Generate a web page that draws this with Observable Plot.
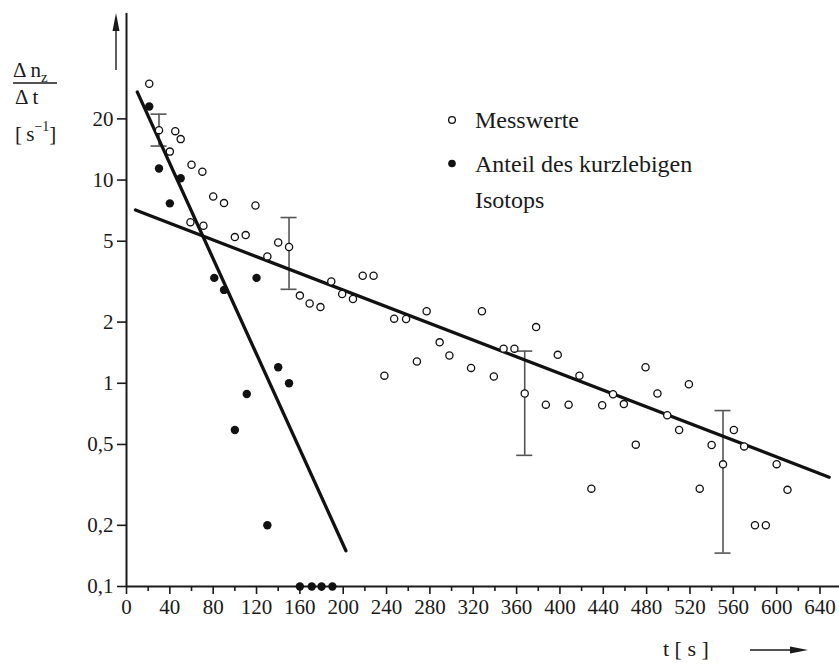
<!DOCTYPE html>
<html><head><meta charset="utf-8">
<script src="https://cdn.jsdelivr.net/npm/d3@7"></script>
<script src="https://cdn.jsdelivr.net/npm/@observablehq/plot@0.6"></script>
<style>body{margin:0;background:#fff} svg{display:block}</style>
</head><body><div id="chart"></div>
<script>
// Messwerte (open circles): time t [s], rate [1/s]
const messT = [21, 30, 40, 45, 50, 60, 59, 70, 71, 80, 90, 100, 110, 119, 130, 140, 150, 160, 169, 179, 189, 199, 209, 218, 228, 238, 247, 258, 268, 277, 289, 298, 318, 328, 339, 348, 358, 367.5, 378, 387, 398, 408, 418, 429, 439, 449, 459, 470, 479, 490, 499, 510, 519, 529, 540, 550.5, 560.5, 570, 580, 590, 600, 610];
const messV = [29.8, 17.6, 13.8, 17.4, 15.9, 11.9, 6.2, 11.0, 5.96, 8.3, 7.7, 5.24, 5.36, 7.5, 4.21, 4.93, 4.68, 2.70, 2.47, 2.37, 3.17, 2.75, 2.60, 3.38, 3.38, 1.09, 2.08, 2.07, 1.28, 2.26, 1.59, 1.37, 1.19, 2.26, 1.08, 1.48, 1.48, 0.89, 1.89, 0.785, 1.38, 0.785, 1.09, 0.303, 0.78, 0.883, 0.79, 0.499, 1.20, 0.89, 0.696, 0.589, 0.989, 0.303, 0.497, 0.399, 0.589, 0.489, 0.2, 0.2, 0.40, 0.299];
// Anteil des kurzlebigen Isotops (filled circles)
const kurzT = [21, 30, 40, 50, 81, 90, 100, 111, 120, 130, 140, 150, 160, 171, 180, 190];
const kurzV = [23.0, 11.4, 7.68, 10.2, 3.30, 2.88, 0.589, 0.886, 3.30, 0.200, 1.20, 1.0, 0.1, 0.1, 0.1, 0.1];
// Error bars
const errT = [30, 150, 367.5, 550.5];
const errLo = [14.7, 2.90, 0.442, 0.146];
const errHi = [21.1, 6.54, 1.44, 0.734];
// Fitted lines
const fitShortT = [10, 202.5];
const fitShortV = [27.1, 0.150];
const fitLongT = [8.3, 648.5];
const fitLongV = [7.12, 0.345];
// Axis ticks
const xTicks = d3.range(0, 641, 40);
const xMinorTicks = d3.range(20, 660, 40);
const yTicks = [0.1, 0.2, 0.5, 1, 2, 5, 10, 20];
const yTickLabels = ["0,1", "0,2", "0,5", "1", "2", "5", "10", "20"];

const mess = messT.map((t, i) => ({t, v: messV[i]}));
const kurz = kurzT.map((t, i) => ({t, v: kurzV[i]}));
const errs = errT.map((t, i) => ({t, lo: errLo[i], hi: errHi[i]}));
const fitShort = fitShortT.map((t, i) => ({t, v: fitShortV[i]}));
const fitLong = fitLongT.map((t, i) => ({t, v: fitLongV[i]}));
const yLab = yTicks.map((v, i) => ({v, label: yTickLabels[i]}));
const capHalf = 7.4;

const serif = "'Liberation Serif', 'Times New Roman', serif";
const chart = Plot.plot({
  width: 839, height: 664,
  marginLeft: 126, marginRight: 0, marginTop: 13, marginBottom: 78,
  style: {fontFamily: serif, fontSize: "21px", background: "#fff", color: "#1a1a1a", overflow: "visible"},
  x: {domain: [0, 658]},
  y: {type: "log", domain: [0.1, 66]},
  marks: [
    Plot.axisX({ticks: xMinorTicks, tickSize: 5, tickFormat: () => "", strokeWidth: 1.6, label: null}),
    Plot.axisX({ticks: xTicks, tickSize: 8, tickPadding: 5, fontSize: 21, strokeWidth: 1.6, label: null}),
    Plot.axisY({ticks: yTicks, tickSize: 9, tickFormat: () => "", strokeWidth: 1.6, label: null}),
    Plot.text(yLab, {y: "v", text: "label", frameAnchor: "left", textAnchor: "end", dx: -13, fontSize: 21, fill: "#1a1a1a"}),
    Plot.ruleY([0.1], {stroke: "#1a1a1a", strokeWidth: 2}),
    Plot.ruleX([0], {stroke: "#1a1a1a", strokeWidth: 2}),
    Plot.ruleX(errs, {x: "t", y1: "lo", y2: "hi", stroke: "#555", strokeWidth: 1.6}),
    Plot.ruleY(errs, {y: "lo", x1: d => d.t - capHalf, x2: d => d.t + capHalf, stroke: "#555", strokeWidth: 1.6}),
    Plot.ruleY(errs, {y: "hi", x1: d => d.t - capHalf, x2: d => d.t + capHalf, stroke: "#555", strokeWidth: 1.6}),
    Plot.line(fitShort, {x: "t", y: "v", stroke: "#111", strokeWidth: 3.3}),
    Plot.line(fitLong, {x: "t", y: "v", stroke: "#111", strokeWidth: 3.3}),
    Plot.dot(mess, {x: "t", y: "v", r: 3.6, fill: "#fff", stroke: "#111", strokeWidth: 1.3}),
    Plot.dot(kurz, {x: "t", y: "v", r: 4.2, fill: "#111", stroke: "none"})
  ]
});
document.getElementById("chart").appendChild(chart);

// Annotations: axis labels, arrows, legend
const svg = d3.select(chart);
const g = svg.append("g").attr("font-family", serif).attr("fill", "#1a1a1a").attr("text-anchor", "start");
// y label
const t1 = g.append("text").attr("x", 13).attr("y", 77).attr("font-size", 21);
t1.append("tspan").text("Δ n");
t1.append("tspan").attr("dy", 5).attr("font-size", 15).text("z");
g.append("line").attr("x1", 13).attr("x2", 57).attr("y1", 83).attr("y2", 83).attr("stroke", "#1a1a1a").attr("stroke-width", 1.4);
g.append("text").attr("x", 15).attr("y", 104).attr("font-size", 21).text("Δ t");
const t3 = g.append("text").attr("x", 15).attr("y", 141).attr("font-size", 21);
t3.append("tspan").text("[\u2009s");
t3.append("tspan").attr("dy", -10).attr("font-size", 14).text("\u22121");
t3.append("tspan").attr("dy", 10).text("]");
// y arrow
g.append("line").attr("x1", 116).attr("x2", 116).attr("y1", 70).attr("y2", 28).attr("stroke", "#1a1a1a").attr("stroke-width", 1.4);
g.append("path").attr("d", "M116,13 L112.5,31 L119.5,31 Z");
// x label and arrow
g.append("text").attr("x", 663).attr("y", 656).attr("font-size", 22).text("t [ s ]");
g.append("line").attr("x1", 750).attr("x2", 792).attr("y1", 650).attr("y2", 650).attr("stroke", "#1a1a1a").attr("stroke-width", 1.4);
g.append("path").attr("d", "M808,650 L790,646.5 L790,653.5 Z");
// legend
g.append("circle").attr("cx", 452).attr("cy", 120).attr("r", 3.4).attr("fill", "#fff").attr("stroke", "#111").attr("stroke-width", 1.3);
g.append("circle").attr("cx", 452).attr("cy", 163.5).attr("r", 3.8).attr("fill", "#111");
g.append("text").attr("x", 475).attr("y", 128).attr("font-size", 24).text("Messwerte");
g.append("text").attr("x", 475).attr("y", 172).attr("font-size", 24).text("Anteil des kurzlebigen");
g.append("text").attr("x", 475).attr("y", 208).attr("font-size", 24).text("Isotops");
</script>
</body></html>
